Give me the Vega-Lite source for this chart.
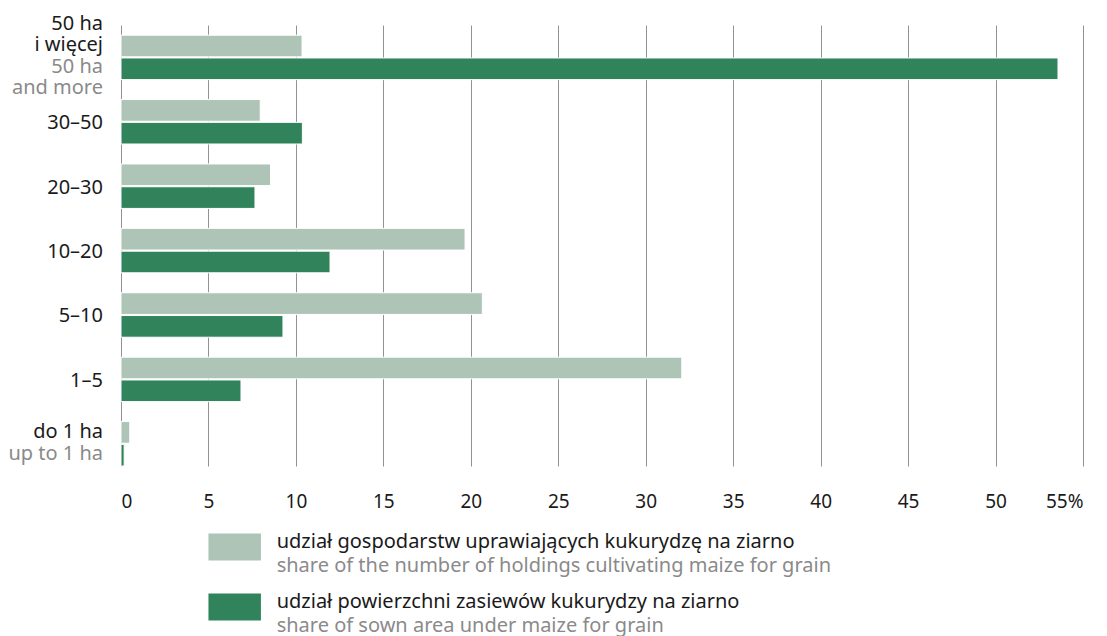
{
  "$schema": "https://vega.github.io/schema/vega-lite/v6.json",
  "background": "white",
  "padding": {"left": 8, "top": 14, "right": 5, "bottom": 0},
  "spacing": 16,
  "config": {"view": {"stroke": null}, "font": "Noto Sans"},
  "datasets": {
    "bars": [
      {"cat": "50 ha i więcej", "series": "holdings", "value": 10.35},
      {"cat": "50 ha i więcej", "series": "area", "value": 53.57},
      {"cat": "30–50", "series": "holdings", "value": 7.96},
      {"cat": "30–50", "series": "area", "value": 10.37},
      {"cat": "20–30", "series": "holdings", "value": 8.55},
      {"cat": "20–30", "series": "area", "value": 7.66},
      {"cat": "10–20", "series": "holdings", "value": 19.67},
      {"cat": "10–20", "series": "area", "value": 11.95},
      {"cat": "5–10", "series": "holdings", "value": 20.66},
      {"cat": "5–10", "series": "area", "value": 9.26},
      {"cat": "1–5", "series": "holdings", "value": 32.06},
      {"cat": "1–5", "series": "area", "value": 6.86},
      {"cat": "do 1 ha", "series": "holdings", "value": 0.5},
      {"cat": "do 1 ha", "series": "area", "value": 0.18}
    ],
    "labels": [
      {"cat": "50 ha i więcej", "pl": "50 ha\ni więcej", "en": "50 ha\nand more"},
      {"cat": "30–50", "pl": "30–50"},
      {"cat": "20–30", "pl": "20–30"},
      {"cat": "10–20", "pl": "10–20"},
      {"cat": "5–10", "pl": "5–10"},
      {"cat": "1–5", "pl": "1–5"},
      {"cat": "do 1 ha", "pl": "do 1 ha", "en": "up to 1 ha"}
    ],
    "legend": [
      {"series": "holdings", "pl": "udział gospodarstw uprawiających kukurydzę na ziarno", "en": "share of the number of holdings cultivating maize for grain"},
      {"series": "area", "pl": "udział powierzchni zasiewów kukurydzy na ziarno", "en": "share of sown area under maize for grain"}
    ]
  },
  "vconcat": [
    {
      "width": 962,
      "height": 441,
      "encoding": {
        "y": {
          "field": "cat",
          "type": "nominal",
          "sort": ["50 ha i więcej", "30–50", "20–30", "10–20", "5–10", "1–5", "do 1 ha"],
          "scale": {"paddingInner": 0.31, "paddingOuter": 0.079, "align": 1},
          "axis": null
        }
      },
      "layer": [
        {
          "data": {"name": "bars"},
          "mark": {"type": "bar", "stroke": "white", "strokeWidth": 1},
          "encoding": {
            "yOffset": {"field": "series", "type": "nominal", "sort": ["holdings", "area"], "scale": {"paddingInner": 0.05}},
            "x": {
              "field": "value",
              "type": "quantitative",
              "scale": {"domain": [0, 55], "nice": false},
              "axis": {
                "title": null,
                "values": [0, 5, 10, 15, 20, 25, 30, 35, 40, 45, 50, 55],
                "labelExpr": "datum.value == 55 ? '55%' : datum.label",
                "grid": true,
                "gridColor": "#929292",
                "gridWidth": 1,
                "domain": false,
                "ticks": false,
                "tickSize": 0,
                "labelPadding": 26,
                "labelFontSize": 19,
                "labelColor": "#1a1a1a",
                "labelOverlap": false
              }
            },
            "color": {"field": "series", "type": "nominal", "scale": {"domain": ["holdings", "area"], "range": ["#adc4b7", "#30835b"]}, "legend": null}
          }
        },
        {
          "data": {"name": "labels"},
          "transform": [{"filter": "datum.en && indexof(datum.pl, '\\n') >= 0"}],
          "mark": {"type": "text", "align": "right", "baseline": "alphabetic", "dx": -18, "dy": -27, "lineBreak": "\n", "lineHeight": 21, "fontSize": 20, "color": "#1a1a1a"},
          "encoding": {"x": {"datum": 0}, "text": {"field": "pl"}}
        },
        {
          "data": {"name": "labels"},
          "transform": [{"filter": "datum.en && indexof(datum.pl, '\\n') < 0"}],
          "mark": {"type": "text", "align": "right", "baseline": "alphabetic", "dx": -18, "dy": -6, "fontSize": 20, "color": "#1a1a1a"},
          "encoding": {"x": {"datum": 0}, "text": {"field": "pl"}}
        },
        {
          "data": {"name": "labels"},
          "transform": [{"filter": "!datum.en"}],
          "mark": {"type": "text", "align": "right", "baseline": "alphabetic", "dx": -18, "dy": 7.5, "fontSize": 20, "color": "#1a1a1a"},
          "encoding": {"x": {"datum": 0}, "text": {"field": "pl"}}
        },
        {
          "data": {"name": "labels"},
          "transform": [{"filter": "datum.en"}],
          "mark": {"type": "text", "align": "right", "baseline": "alphabetic", "dx": -18, "dy": 16, "lineBreak": "\n", "lineHeight": 20.5, "fontSize": 20, "color": "#8a8a8a"},
          "encoding": {"x": {"datum": 0}, "text": {"field": "en"}}
        }
      ]
    },
    {
      "width": 962,
      "height": 100,
      "data": {"name": "legend"},
      "encoding": {
        "y": {"field": "series", "type": "nominal", "sort": ["holdings", "area"], "scale": {"paddingInner": 0.55, "paddingOuter": 0.108}, "axis": null}
      },
      "layer": [
        {
          "mark": {"type": "rect"},
          "encoding": {
            "x": {"datum": 5, "type": "quantitative", "scale": {"domain": [0, 55], "nice": false}, "axis": null},
            "x2": {"datum": 8},
            "color": {"field": "series", "type": "nominal", "scale": {"domain": ["holdings", "area"], "range": ["#adc4b7", "#30835b"]}, "legend": null}
          }
        },
        {
          "mark": {"type": "text", "align": "left", "baseline": "alphabetic", "dy": 1, "fontSize": 20, "color": "#1a1a1a"},
          "encoding": {"x": {"datum": 8.9, "type": "quantitative"}, "text": {"field": "pl"}}
        },
        {
          "mark": {"type": "text", "align": "left", "baseline": "alphabetic", "dy": 25, "fontSize": 20, "color": "#8a8a8a"},
          "encoding": {"x": {"datum": 8.9, "type": "quantitative"}, "text": {"field": "en"}}
        }
      ]
    }
  ]
}
